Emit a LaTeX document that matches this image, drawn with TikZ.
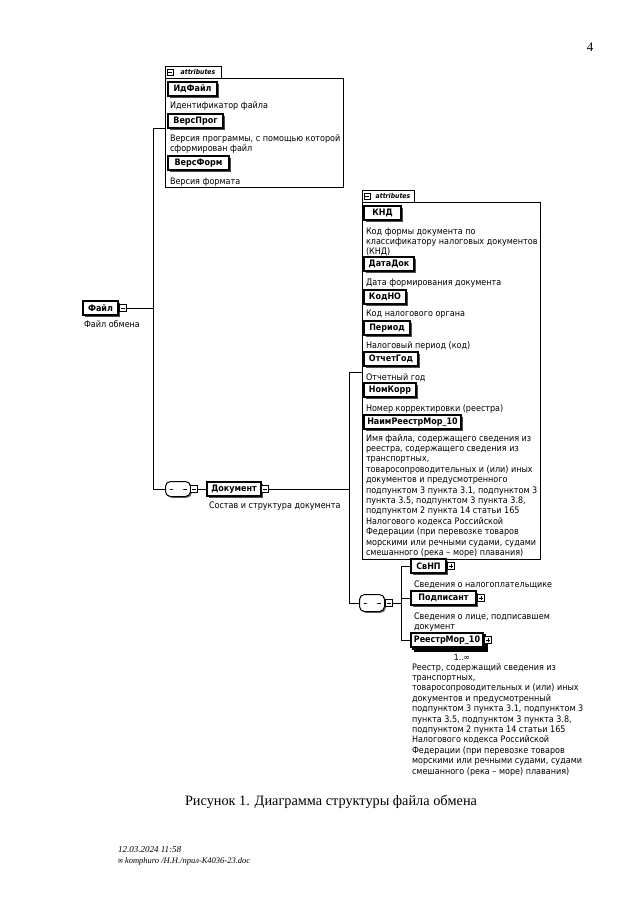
\documentclass[tikz,border=0pt]{standalone}
\usepackage{fontspec}
\setmainfont{Liberation Serif}
\newfontfamily\dgfont{DejaVu Sans Condensed}
\usetikzlibrary{shadows}
\newcommand\dtext[1]{\parbox[t]{230pt}{\raggedright #1}}
\begin{document}
\begin{tikzpicture}[x=1pt,y=-1pt,
  every node/.style={inner sep=0pt, outer sep=0pt},
  conn/.style={line width=0.8pt},
  elembase/.style={draw, line width=1.2pt, fill=white,
    font=\dgfont\bfseries\fontsize{8.9}{10}\selectfont,
    minimum height=14pt, anchor=west},
  elem/.style={elembase, general shadow={fill=black!70, shadow xshift=1.6pt, shadow yshift=-1.6pt}},
  elemrep/.style={elembase, double copy shadow={shadow xshift=2pt, shadow yshift=-2pt}},
  dsc/.style={font=\dgfont\fontsize{8.95}{10.4}\selectfont, anchor=base west},
  attbox/.style={draw, line width=0.9pt, anchor=north west},
  tabst/.style={draw, line width=0.8pt, anchor=north west, font=\dgfont\itshape\bfseries\fontsize{6.8}{7}\selectfont},
  sqbase/.style={draw, line width=0.6pt, fill=white, minimum size=7pt},
  sqminus/.style={sqbase, path picture={\draw[line width=0.6pt] ([xshift=1.3pt]path picture bounding box.west) -- ([xshift=-1.3pt]path picture bounding box.east);}},
  sqplus/.style={sqbase, path picture={\draw[line width=0.6pt] ([xshift=1.3pt]path picture bounding box.west) -- ([xshift=-1.3pt]path picture bounding box.east) ([yshift=1.3pt]path picture bounding box.south) -- ([yshift=-1.3pt]path picture bounding box.north);}},
  seqst/.style={rectangle, rounded corners=5pt, draw, line width=1pt, fill=white,
    general shadow={fill=black!60, shadow xshift=1.3pt, shadow yshift=-1.3pt},
    path picture={\draw[line width=0.8pt] ([xshift=4pt]path picture bounding box.west) -- ([xshift=-4pt]path picture bounding box.east);
      \foreach \dx in {-3,0,3}{\fill ([xshift=\dx pt]path picture bounding box.center) +(-1.2pt,-1.2pt) rectangle +(1.2pt,1.2pt);}}}
]
\fill[white] (0,0) rectangle (640,905);
\useasboundingbox (0,0) rectangle (640,905);

% page number
\node[font=\fontsize{13}{14}\selectfont] (pnum) at (590,47) {4};

% ---------- root element
\node[elem, minimum width=35pt] (efile) at (83,308) {Файл};
\node[sqminus] (sqfile) at (123,308) {};
\node[dsc] (dfile) at (84,327) {Файл обмена};

% ---------- attributes box 1
\node[attbox, minimum width=178pt, minimum height=109pt] (att1) at (165,78) {};
\node[tabst, minimum width=56pt, minimum height=12pt, anchor=south west] (tab1) at (att1.north west) {\hspace*{10pt}attributes\hfill};
\node[sqminus, minimum size=6pt] (tsq1) at ([xshift=5pt]tab1.west) {};

\node[elem, minimum width=49pt] (eid) at (168,89) {ИдФайл};
\node[dsc] (did) at (170,108) {\dtext{Идентификатор файла}};
\node[elem, minimum width=55pt] (evp) at (168,121) {ВерсПрог};
\node[dsc] (dvp) at (170,141) {\dtext{Версия программы, с помощью которой\\сформирован файл}};
\node[elem, minimum width=61pt] (evf) at (168,163) {ВерсФорм};
\node[dsc] (dvf) at (170,184) {\dtext{Версия формата}};

% bus 1
\coordinate (b1t) at (153,128);
\coordinate (b1b) at (153,489);
\draw[conn] (sqfile.east) -- (b1t |- sqfile);
\draw[conn] (att1.west |- b1t) -- (b1t) -- (b1b);

% ---------- sequence 1 and Документ
\node[seqst, minimum width=25pt, minimum height=15pt] (seq1) at (178,489) {};
\node[sqminus] (sqseq1) at (194,489) {};
\draw[conn] (b1b) -- (seq1.west);
\node[elem, minimum width=54pt] (edoc) at (207,489) {Документ};
\node[sqminus] (sqdoc) at (265,489) {};
\draw[conn] (sqseq1.east) -- (edoc.west);
\node[dsc] (ddoc) at (209,508) {Состав и структура документа};

% ---------- attributes box 2
\node[attbox, minimum width=178pt, minimum height=357pt] (att2) at (362,202) {};
\node[tabst, minimum width=52pt, minimum height=12pt, anchor=south west] (tab2) at (att2.north west) {\hspace*{10pt}attributes\hfill};
\node[sqminus, minimum size=6pt] (tsq2) at ([xshift=5pt]tab2.west) {};

\node[elem, minimum width=37pt] (eknd) at (364,213) {КНД};
\node[dsc] (dknd) at (366,234) {\dtext{Код формы документа по\\классификатору налоговых документов\\(КНД)}};
\node[elem, minimum width=50pt] (edata) at (364,264) {ДатаДок};
\node[dsc] (ddata) at (366,285) {\dtext{Дата формирования документа}};
\node[elem, minimum width=42pt] (ekod) at (364,297) {КодНО};
\node[dsc] (dkod) at (366,316) {\dtext{Код налогового органа}};
\node[elem, minimum width=46pt] (eper) at (364,328) {Период};
\node[dsc] (dper) at (366,348) {\dtext{Налоговый период (код)}};
\node[elem, minimum width=54pt] (eotch) at (364,359) {ОтчетГод};
\node[dsc] (dotch) at (366,380) {\dtext{Отчетный год}};
\node[elem, minimum width=52pt] (enom) at (364,390) {НомКорр};
\node[dsc] (dnom) at (366,411) {\dtext{Номер корректировки (реестра)}};
\node[elem, minimum width=97pt] (enaim) at (364,422) {НаимРеестрМор\_10};
\node[dsc] (dnaim) at (366,441) {\dtext{Имя файла, содержащего сведения из\\реестра, содержащего сведения из\\транспортных,\\товаросопроводительных и (или) иных\\документов и предусмотренного\\подпунктом 3 пункта 3.1, подпунктом 3\\пункта 3.5, подпунктом 3 пункта 3.8,\\подпунктом 2 пункта 14 статьи 165\\Налогового кодекса Российской\\Федерации (при перевозке товаров\\морскими или речными судами, судами\\смешанного (река – море) плавания)}};

% bus 2
\coordinate (b2t) at (349,372);
\coordinate (b2b) at (349,603);
\draw[conn] (sqdoc.east) -- (b2t |- sqdoc);
\draw[conn] (att2.west |- b2t) -- (b2t) -- (b2b);

% ---------- sequence 2
\node[seqst, minimum width=25pt, minimum height=17pt] (seq2) at (372,603) {};
\node[sqminus] (sqseq2) at (389,603) {};
\draw[conn] (b2b) -- (seq2.west);

\node[elem, minimum width=35pt] (esvnp) at (411,566) {СвНП};
\node[sqplus] (sqsvnp) at (451,566) {};
\node[dsc] (dsvnp) at (414,587) {\dtext{Сведения о налогоплательщике}};
\node[elem, minimum width=65pt] (epodp) at (411,598) {Подписант};
\node[sqplus] (sqpodp) at (481,598) {};
\node[dsc] (dpodp) at (414,619) {\dtext{Сведения о лице, подписавшем\\документ}};
\node[elemrep, minimum width=72pt] (ereestr) at (411,640) {РеестрМор\_10};
\node[sqplus] (sqreestr) at (488,640) {};
\node[font=\dgfont\fontsize{8.5}{9}\selectfont, anchor=base] (mult) at (462,660) {1..∞};
\node[dsc] (dreestr) at (412,670) {\dtext{Реестр, содержащий сведения из\\транспортных,\\товаросопроводительных и (или) иных\\документов и предусмотренный\\подпунктом 3 пункта 3.1, подпунктом 3\\пункта 3.5, подпунктом 3 пункта 3.8,\\подпунктом 2 пункта 14 статьи 165\\Налогового кодекса Российской\\Федерации (при перевозке товаров\\морскими или речными судами, судами\\смешанного (река – море) плавания)}};

% bus 3
\coordinate (b3t) at (401,566);
\coordinate (b3b) at (401,640);
\draw[conn] (sqseq2.east) -- (b3t |- sqseq2);
\draw[conn] (b3t) -- (b3b);
\draw[conn] (b3t) -- (esvnp.west);
\draw[conn] (b3t |- epodp.west) -- (epodp.west);
\draw[conn] (b3b) -- (ereestr.west);

% ---------- caption and footer
\node[font=\fontsize{14.3}{17}\selectfont, anchor=base] (cap) at (331,805) {Рисунок 1. Диаграмма структуры файла обмена};
\node[font=\itshape\fontsize{9}{10}\selectfont, anchor=base west] (foot1) at (118,852) {12.03.2024 11:58};
\node[font=\itshape\fontsize{8.5}{10}\selectfont, anchor=base west] (foot2) at (118,863) {{\dgfont\fontsize{6.5}{7}\selectfont\char"2709}\ komphuro /Н.Н./прил-К4036-23.doc};
\end{tikzpicture}
\end{document}
